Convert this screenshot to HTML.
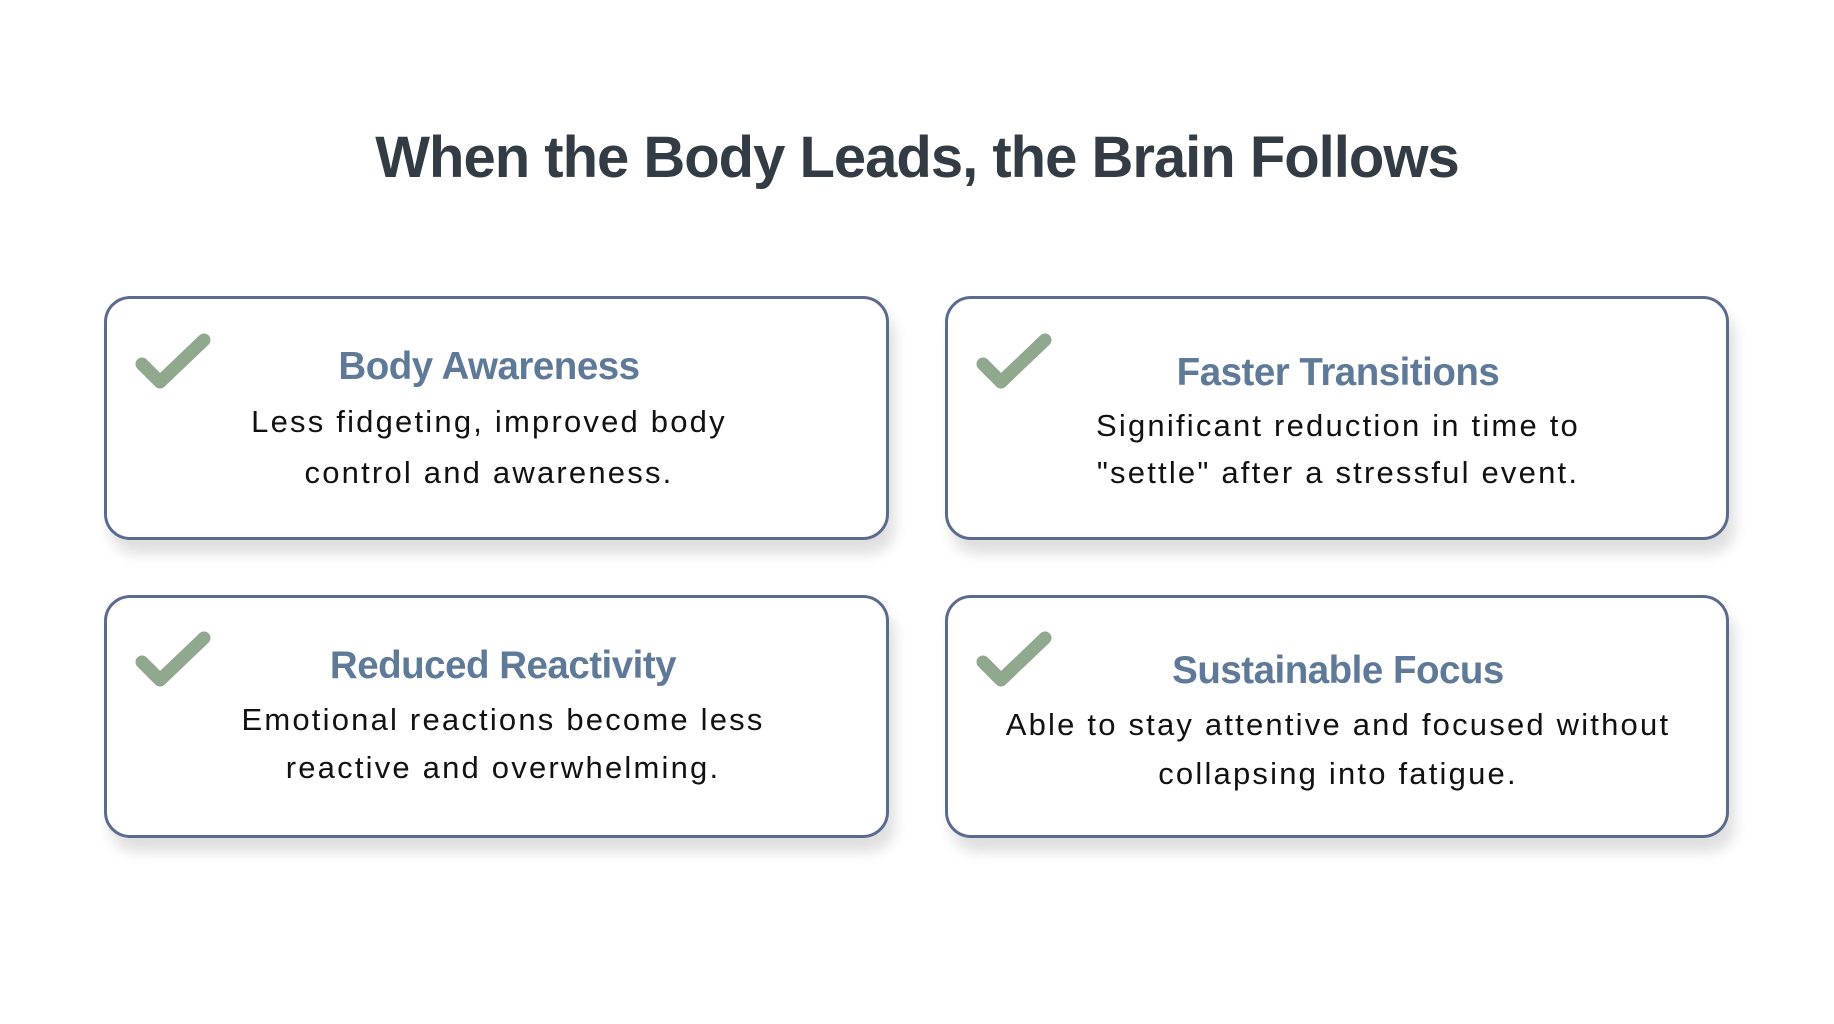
<!DOCTYPE html>
<html><head><meta charset="utf-8"><style>
body{margin:0;width:1834px;height:1024px;background:#fff;position:relative;overflow:hidden;font-family:"Liberation Sans",sans-serif}
.t{position:absolute;left:0;width:1834px;text-align:center;font-weight:bold;color:#333c44;font-size:58px;line-height:64px;top:126px;letter-spacing:-1px}
.card{position:absolute;border:3.5px solid #5b6b8f;border-radius:26px;background:#fff;box-shadow:6px 14px 14px rgba(0,0,0,0.13);box-sizing:border-box}
.l{position:absolute;width:800px;text-align:center;white-space:nowrap}
.h{font-weight:bold;color:#5e7a98;font-size:38.5px;line-height:40px;letter-spacing:-0.5px}
.b{color:#111;font-size:31px;line-height:36px;letter-spacing:2.2px}
svg{position:absolute}
</style></head><body>
<div class="t">When the Body Leads, the Brain Follows</div>
<div class="card" style="left:104px;top:296px;width:785px;height:244px"></div>
<div class="card" style="left:945px;top:296px;width:784px;height:244px"></div>
<div class="card" style="left:104px;top:595px;width:785px;height:243px"></div>
<div class="card" style="left:945px;top:595px;width:784px;height:243px"></div>

<svg style="left:132px;top:330px" width="84" height="64"><polyline points="10,34 28,52 72,10" fill="none" stroke="#8fa88e" stroke-width="13" stroke-linecap="round" stroke-linejoin="round"/></svg>
<svg style="left:973px;top:330px" width="84" height="64"><polyline points="10,34 28,52 72,10" fill="none" stroke="#8fa88e" stroke-width="13" stroke-linecap="round" stroke-linejoin="round"/></svg>
<svg style="left:132px;top:628px" width="84" height="64"><polyline points="10,34 28,52 72,10" fill="none" stroke="#8fa88e" stroke-width="13" stroke-linecap="round" stroke-linejoin="round"/></svg>
<svg style="left:973px;top:628px" width="84" height="64"><polyline points="10,34 28,52 72,10" fill="none" stroke="#8fa88e" stroke-width="13" stroke-linecap="round" stroke-linejoin="round"/></svg>

<div class="l h" style="left:89px;top:347px">Body Awareness</div>
<div class="l b" style="left:89px;top:404px">Less fidgeting, improved body</div>
<div class="l b" style="left:89px;top:455px">control and awareness.</div>

<div class="l h" style="left:938px;top:353px">Faster Transitions</div>
<div class="l b" style="left:938px;top:408px">Significant reduction in time to</div>
<div class="l b" style="left:938px;top:455px">"settle" after a stressful event.</div>

<div class="l h" style="left:103px;top:646px">Reduced Reactivity</div>
<div class="l b" style="left:103px;top:702px">Emotional reactions become less</div>
<div class="l b" style="left:103px;top:750px">reactive and overwhelming.</div>

<div class="l h" style="left:938px;top:651px">Sustainable Focus</div>
<div class="l b" style="left:938px;top:707px">Able to stay attentive and focused without</div>
<div class="l b" style="left:938px;top:756px">collapsing into fatigue.</div>
</body></html>
